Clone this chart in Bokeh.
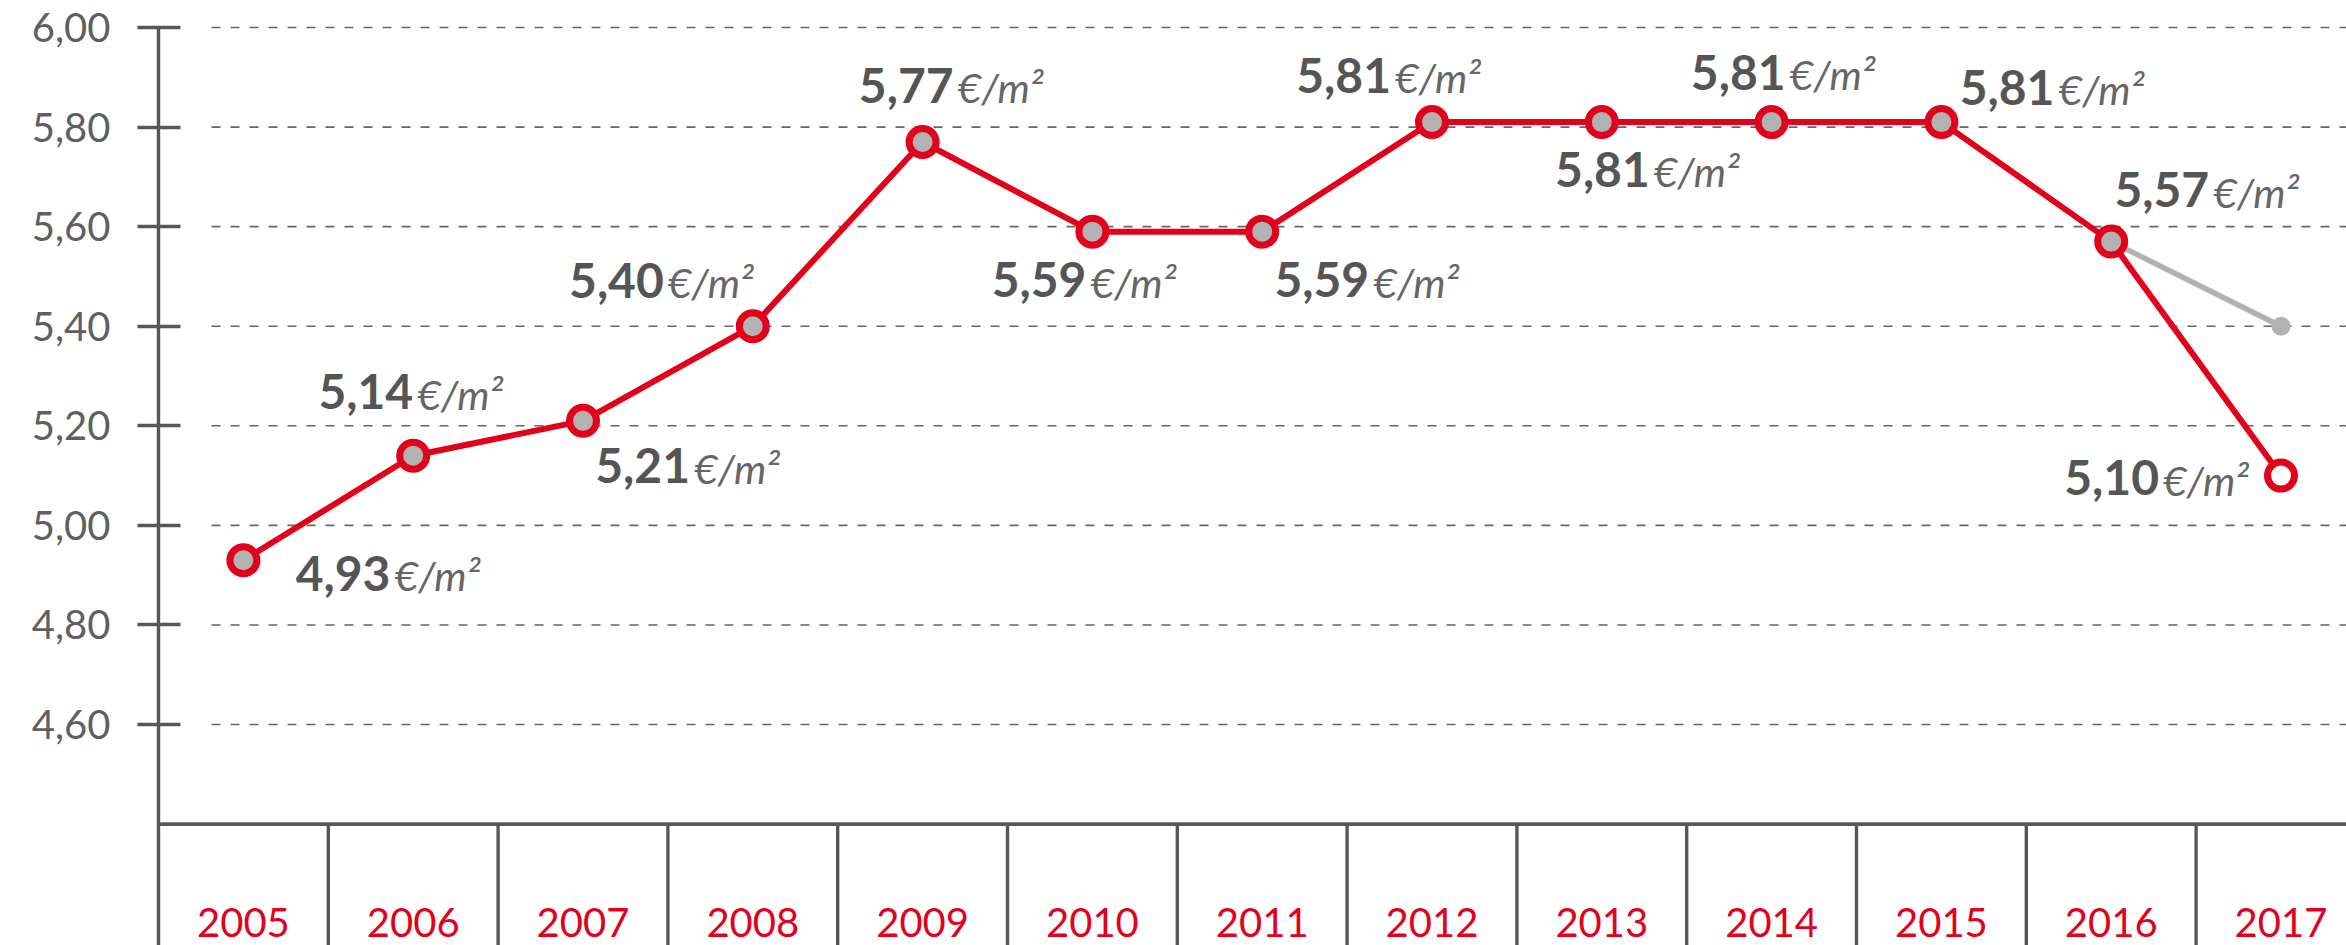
from bokeh.plotting import figure
from bokeh.models import ColumnDataSource, FixedTicker, CustomJSTickFormatter, Span
from bokeh.core.properties import value
from bokeh.embed import file_html
from bokeh.resources import INLINE

# ---------------- data ----------------
years = ["2005", "2006", "2007", "2008", "2009", "2010", "2011",
         "2012", "2013", "2014", "2015", "2016", "2017"]
prices = [4.93, 5.14, 5.21, 5.40, 5.77, 5.59, 5.59, 5.81, 5.81, 5.81, 5.81, 5.57, 5.10]
alt_years = ["2016", "2017"]
alt_prices = [5.57, 5.40]
y_ticks = [4.60, 4.80, 5.00, 5.20, 5.40, 5.60, 5.80, 6.00]
baseline_value = 4.40
unit_label = "€/m²"

# ---------------- styling ----------------
RED = "#e2001a"
GREY_FILL = "#b2b2b2"
AXIS = "#575757"
GRID = "#666666"
NUM_COLOR = "#555555"
UNIT_COLOR = "#666666"
TICK_COLOR = "#5f5f5f"
FONT = "Lato"

NUM_SIZE = 48
UNIT_SIZE = 41
YEAR_SIZE = 40
BASE_SHIFT = 0.375  # empirical em shift of the alphabetic baseline

# label placement (pixel offsets from each point: right edge of number, baseline)
label_dx = [147, 0, 107, -89, 31, -6, 107, -41, 48, 14, 113, 98, -122]
label_dy = [31, -46, 63, -28, -39, 66, 66, -29, 65, -32, -17, -34, 20]
unit_gap = 4

PX_PER_UNIT_Y = 497.9
PX_PER_CAT = 169.8
FIG_W, FIG_H = 2346, 945
LEFT = 158
y_end = 6.00 + 27 / PX_PER_UNIT_Y
y_start = y_end - FIG_H / PX_PER_UNIT_Y
x_start = -0.5
x_end = x_start + (FIG_W - LEFT) / PX_PER_CAT

xs = list(range(len(years)))
alt_xs = [years.index(y) for y in alt_years]

p = figure(width=FIG_W, height=FIG_H,
           x_range=(x_start, x_end), y_range=(y_start, y_end),
           x_axis_location=None, toolbar_location=None, output_backend="svg",
           min_border_left=LEFT, min_border_right=0, min_border_top=0, min_border_bottom=0)
p.outline_line_color = None
p.background_fill_color = "white"
p.border_fill_color = "white"
p.xgrid.visible = False
p.ygrid.visible = False

# y axis
ya = p.yaxis[0]
ya.ticker = FixedTicker(ticks=y_ticks, minor_ticks=[])
ya.formatter = CustomJSTickFormatter(code="return tick.toFixed(2).replace('.', ',');")
ya.bounds = (y_start, y_ticks[-1])
ya.axis_line_color = AXIS
ya.axis_line_width = 3.4
ya.major_tick_line_color = AXIS
ya.major_tick_line_width = 3.4
ya.major_tick_in = 22
ya.major_tick_out = 21
ya.minor_tick_line_color = None
ya.major_label_standoff = 27
ya.major_label_text_font = FONT
ya.major_label_text_font_size = "40px"
ya.major_label_text_color = TICK_COLOR

# dashed grid lines (start a little right of the axis)
grid_x0 = x_start + 53 / PX_PER_CAT
p.segment(x0=[grid_x0] * len(y_ticks), x1=[x_end] * len(y_ticks),
          y0=y_ticks, y1=y_ticks, line_color=GRID, line_width=1.6, line_dash="9 10")

# category boxes below the baseline
seps = [i + 0.5 for i in xs[:-1]]
p.segment(x0=seps, x1=seps, y0=[baseline_value] * len(seps), y1=[y_start] * len(seps),
          line_color=AXIS, line_width=3.4)
p.add_layout(Span(location=baseline_value, dimension="width",
                  line_color=AXIS, line_width=3.6))

# year labels (baseline ~8px above the bottom edge)
year_y = y_start + 8 / PX_PER_UNIT_Y
p.text(x=xs, y=[year_y] * len(xs), text=years, text_align="center",
       text_baseline="alphabetic", y_offset=-BASE_SHIFT * YEAR_SIZE,
       text_font=value(FONT), text_font_size=f"{YEAR_SIZE}px", text_color=RED)

# grey alternative line
p.line(alt_xs, alt_prices, line_color=GREY_FILL, line_width=5.5)
p.scatter([alt_xs[-1]], [alt_prices[-1]], size=19, fill_color=GREY_FILL, line_color=None)

# main red line
p.line(xs, prices, line_color=RED, line_width=6)
fills = [GREY_FILL] * (len(xs) - 1) + ["white"]
src = ColumnDataSource(dict(
    x=xs, y=prices, fill=fills,
    num=[f"{v:.2f}".replace(".", ",") for v in prices],
    unit=[unit_label] * len(xs),
    dx=label_dx, dxu=[d + unit_gap for d in label_dx],
    dyn=[d - BASE_SHIFT * NUM_SIZE for d in label_dy],
    dyu=[d - BASE_SHIFT * UNIT_SIZE for d in label_dy],
))
p.scatter("x", "y", source=src, size=27, fill_color="fill",
          line_color=RED, line_width=7)

# value labels
p.text("x", "y", text="num", source=src, x_offset="dx", y_offset="dyn",
       text_align="right", text_baseline="alphabetic",
       text_font=value(FONT), text_font_style="bold", text_font_size=f"{NUM_SIZE}px",
       text_color=NUM_COLOR)
p.text("x", "y", text="unit", source=src, x_offset="dxu", y_offset="dyu",
       text_align="left", text_baseline="alphabetic",
       text_font=value(FONT), text_font_style="italic", text_font_size=f"{UNIT_SIZE}px",
       text_color=UNIT_COLOR)

open("out.html", "w").write(file_html(p, INLINE))
